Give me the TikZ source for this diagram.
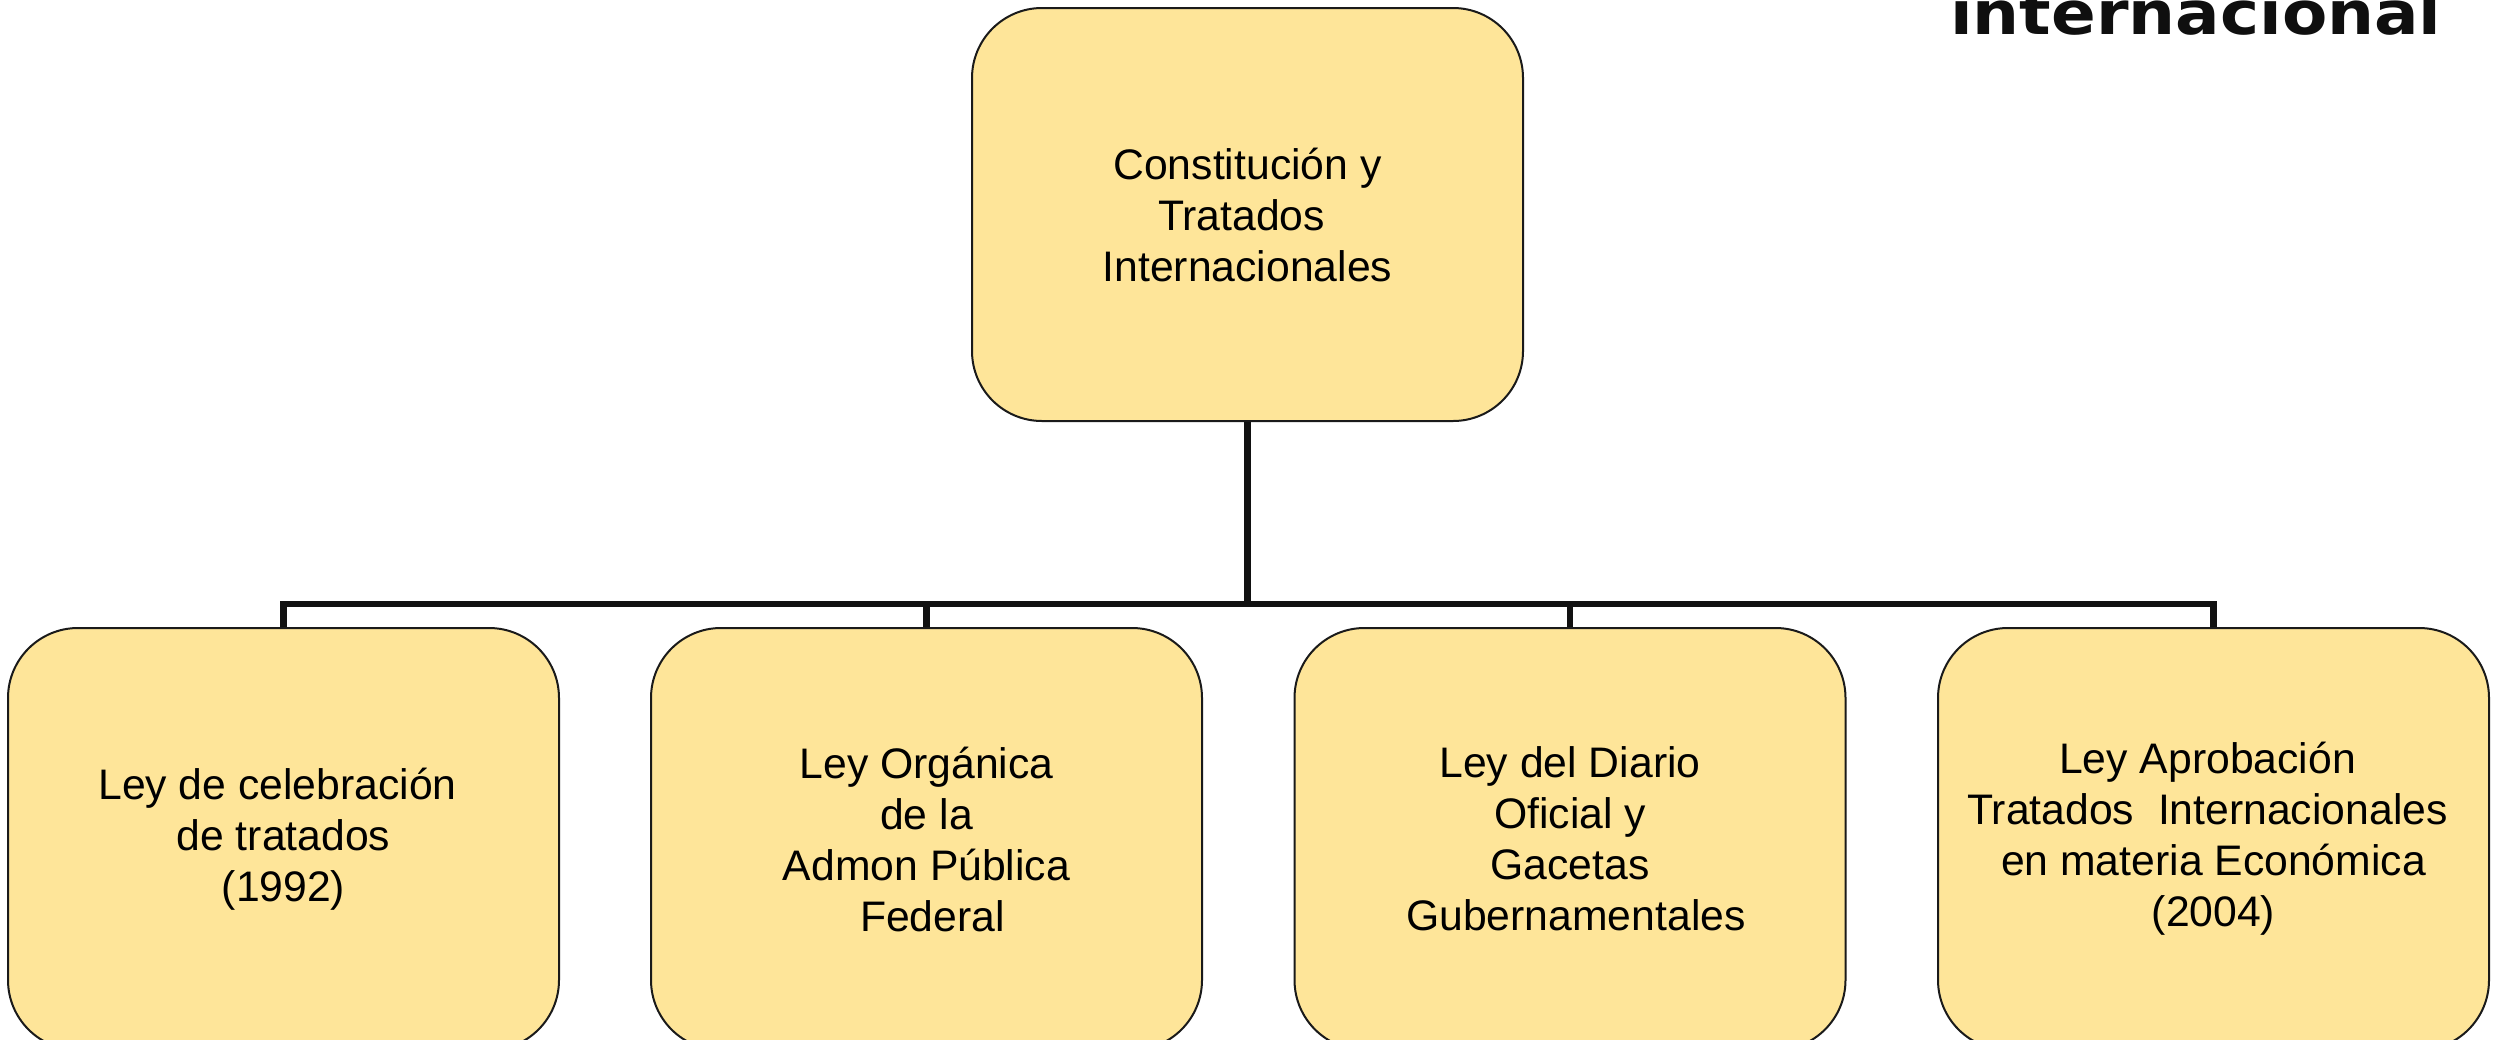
\documentclass[tikz,border=0pt]{standalone}
\usepackage{graphicx}
\usepackage{fontspec}
\setmainfont{Liberation Sans}
\newfontfamily\titlefont{DejaVu Sans}
\definecolor{boxfill}{HTML}{FEE599}
\definecolor{boxline}{HTML}{1A1A1A}
\definecolor{connline}{HTML}{111111}
\begin{document}
\begin{tikzpicture}[x=1pt,y=-1pt,
  box/.style={draw=boxline, line width=2pt, fill=boxfill, rounded corners=70pt,
    minimum width=551pt, minimum height=422pt, inner sep=0pt, align=center,
    font=\fontsize{42.7}{51}\selectfont, text=black},
  conn/.style={draw=connline, line width=6.5pt}]
\useasboundingbox (0,0) rectangle (2503,1039);
\fill[white] (0,0) rectangle (2503,1039);

\node[box, minimum height=413pt] (top) at (1247.5,214.5)
  {Constitución y\\Tratados\kern.28em\\Internacionales};
\node[box] (c1) at (283.5,839)
  {Ley de celebración\kern.28em\\de tratados\\(1992)};
\node[box] (c2) at (926.5,839)
  {Ley Orgánica\\de la\\Admon Pública\\\kern.28em Federal};
\node[box] (c3) at (1570,839)
  {Ley del Diario\\Oficial y\\Gacetas\\\kern.28em Gubernamentales};
\node[box] (c4) at (2213.5,839)
  {Ley Aprobación\kern.28em\\Tratados\ \ Internacionales\kern.28em\\en materia Económica\\(2004)};

\coordinate (bus) at (1248.5,604);
\foreach \c in {c1,c2,c3,c4}
  \draw[conn] (top.south) -- (top.south |- bus) -| (\c.north);

\node[anchor=base west, inner sep=0pt, text=black!94] (title) at (1950,34)
  {\scalebox{1.1}[1]{\titlefont\bfseries\fontsize{60}{72}\selectfont internacional}};
\end{tikzpicture}
\end{document}
